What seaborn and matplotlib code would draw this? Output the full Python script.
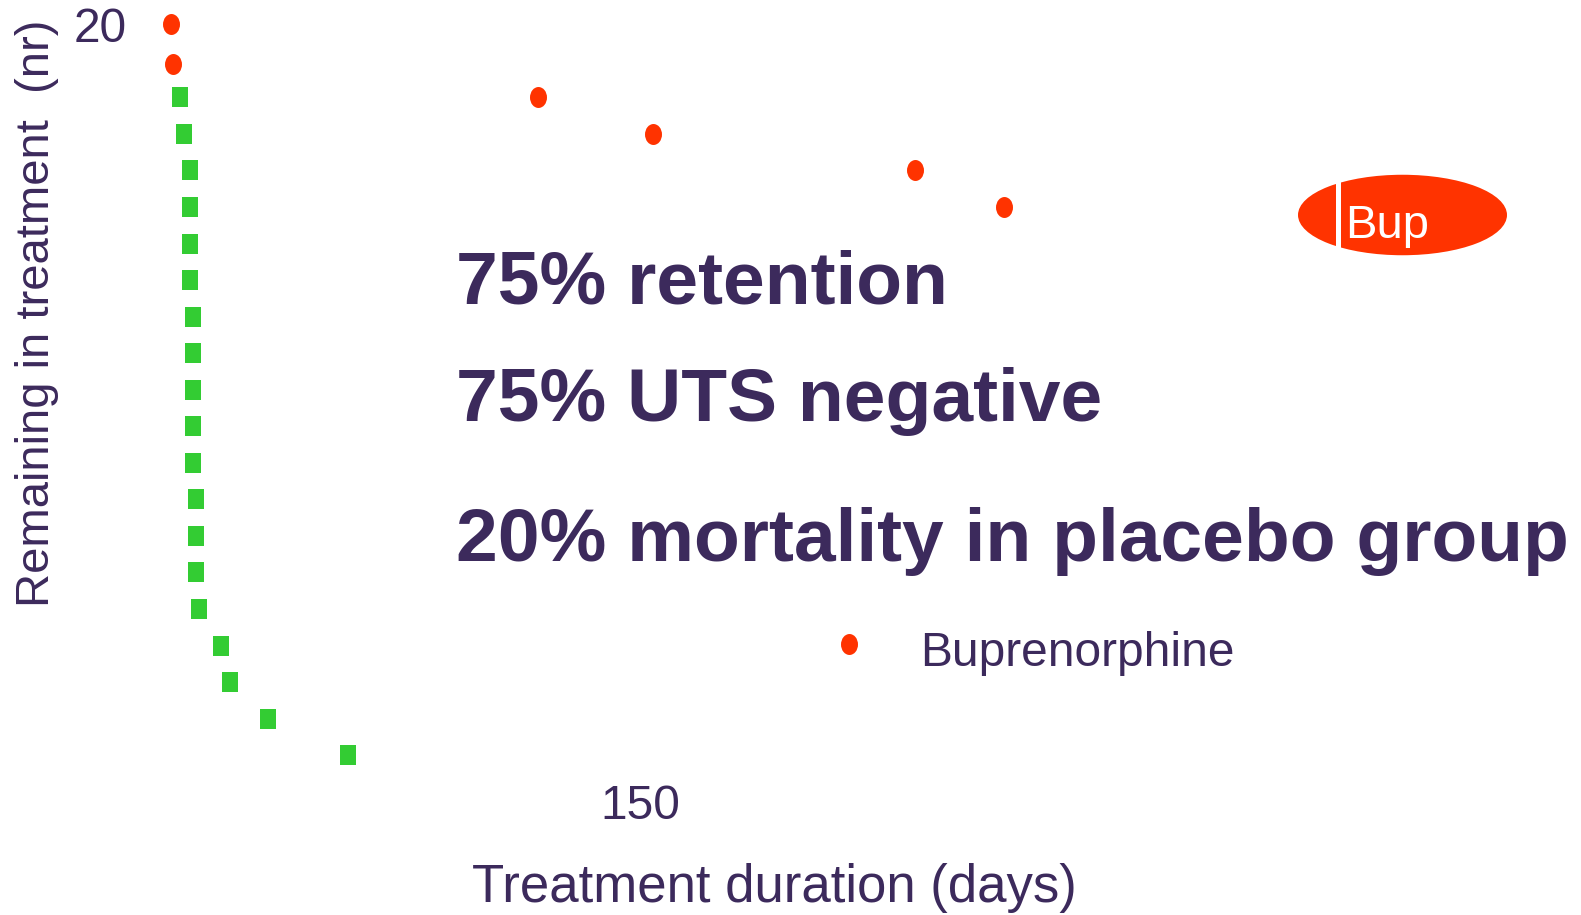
import numpy as np
import pandas as pd
import seaborn as sns
import matplotlib.pyplot as plt
from matplotlib.path import Path
from matplotlib.patches import Ellipse, Rectangle

# data
bup_days = [0, 0.6, 117.5, 154.3, 237.9, 266.6]
bup_left = [20, 18.9, 18, 17, 16, 15]
plc_days = [2.9, 4.0, 5.8, 5.8, 5.9, 5.9, 6.9, 6.9, 6.9, 6.9, 6.9,
            8.0, 8.0, 8.0, 8.9, 15.9, 18.9, 30.8, 56.6]
plc_left = [18, 17, 16, 15, 14, 13, 12, 11, 10, 9, 8, 7, 6, 5, 4, 3, 2, 1, 0]
x_ticks = [150]
y_ticks = [20]
notes = ["75% retention", "75% UTS negative", "20% mortality in placebo group"]

ink = '#3c2a5c'
red = '#ff3300'
green = '#33cc33'

sns.set_theme(style='white')
plt.rcParams['font.family'] = ['Liberation Sans', 'DejaVu Sans']

df_bup = pd.DataFrame({'days': bup_days, 'left': bup_left})
df_plc = pd.DataFrame({'days': plc_days, 'left': plc_left})

# slightly stretched markers, like the original
circ = Path.unit_circle()
oval = Path(circ.vertices * [0.81, 1.0], circ.codes)
box = Path([(-0.42, -0.5), (0.42, -0.5), (0.42, 0.5), (-0.42, 0.5), (-0.42, -0.5)],
           [Path.MOVETO, Path.LINETO, Path.LINETO, Path.LINETO, Path.CLOSEPOLY])

W, H = 1581, 915
fig = plt.figure(figsize=(W / 100, H / 100), dpi=100)
ax = fig.add_axes([171.4 / W, 1 - 755.2 / H, 1140.3 / W, 731 / H])

sns.scatterplot(x='days', y='left', data=df_plc, ax=ax, marker=box, s=207,
                color=green, linewidth=0, clip_on=False, legend=False)
sns.scatterplot(x='days', y='left', data=df_bup, ax=ax, marker=oval, s=228,
                color=red, linewidth=0, clip_on=False, label='Buprenorphine')

ax.set_xlim(0, 365)
ax.set_ylim(0, 20)
ax.set_xticks(x_ticks)
ax.set_yticks(y_ticks)
sns.despine(ax=ax, left=True, bottom=True)
ax.tick_params(axis='x', length=0, pad=21, labelsize=34.5, labelcolor=ink)
ax.tick_params(axis='y', length=0, pad=32.5, labelsize=34.5, labelcolor=ink)

ax.set_xlabel('Treatment duration (days)', fontsize=38, color=ink)
ax.set_ylabel('Remaining in treatment  (nr)', fontsize=34, color=ink)
ax.xaxis.set_label_coords(0.5289, -0.1475)
ax.yaxis.set_label_coords(-0.099, 0.605)

ax.legend(loc='lower left', bbox_to_anchor=(825 / W, 1 - 676 / H),
          bbox_transform=fig.transFigure, frameon=False, fontsize=34.5,
          labelcolor=ink, borderpad=0, borderaxespad=0, handlelength=1.0,
          handletextpad=0.98, scatteryoffsets=[0.66])

# big bold notes
for txt, base in zip(notes, [304, 421, 561]):
    fig.text(456 / W, 1 - base / H, txt, fontsize=54, fontweight='bold',
             color=ink, va='baseline', ha='left')

# red "Bup" badge
fig.add_artist(Ellipse((1402.5 / W, 1 - 215 / H), 209 / W, 80.5 / H,
                       transform=fig.transFigure, color=red, lw=0))
fig.add_artist(Rectangle((1336 / W, 1 - 257 / H), 4.5 / W, 84 / H,
                         transform=fig.transFigure, color='white', lw=0))
fig.text(1345 / W, 1 - 238.5 / H, 'Bup', fontsize=34, color='white',
         va='baseline', ha='left')

fig.savefig('out.png', dpi=100)
